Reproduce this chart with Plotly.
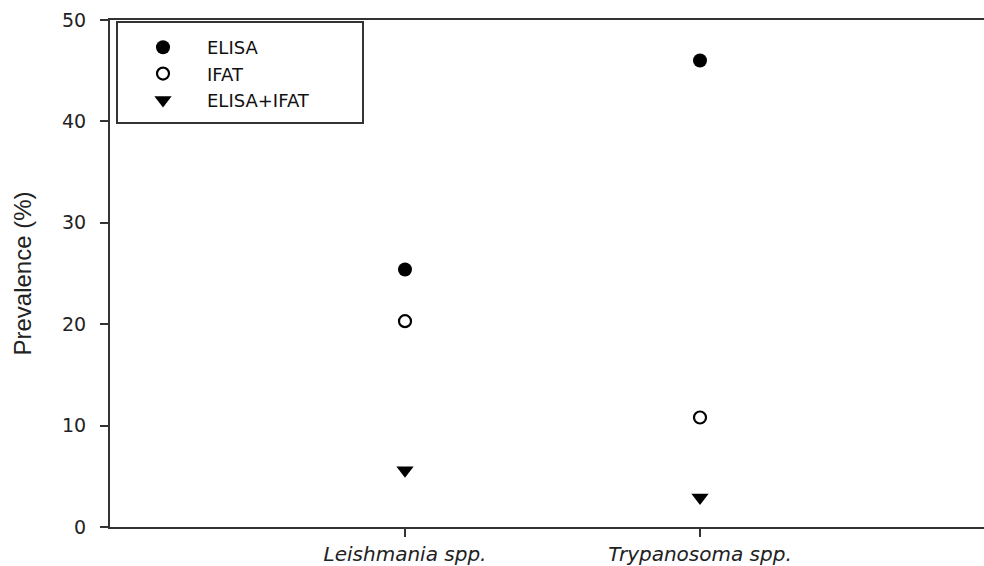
import plotly.graph_objects as go

categories = ["Leishmania spp.", "Trypanosoma spp."]
cat_pos = [1, 2]
elisa = [25.4, 46.0]
ifat = [20.3, 10.8]
elisa_ifat = [5.6, 2.9]
y_ticks = [0, 10, 20, 30, 40, 50]

W, H = 984, 566
ML, MR, MT, MB = 110, 0, 20, 39
pw, ph = W - ML - MR, H - MT - MB

HFONT = "DejaVu Sans, Liberation Sans, Arial, sans-serif"

fig = go.Figure()
fig.add_trace(go.Scatter(x=cat_pos, y=elisa, mode="markers", name="ELISA",
                         marker=dict(symbol="circle", size=14, color="black")))
fig.add_trace(go.Scatter(x=cat_pos, y=ifat, mode="markers", name="IFAT",
                         marker=dict(symbol="circle-open", size=12, color="black",
                                     line=dict(width=2.2, color="black"))))
fig.add_trace(go.Scatter(x=cat_pos, y=elisa_ifat, mode="markers", name="ELISA+IFAT",
                         marker=dict(symbol="triangle-down", size=15, color="black")))

def px_x(p):
    return (p - ML) / pw
def px_y(p):
    return (H - MB - p) / ph

fig.add_shape(type="rect", xref="paper", yref="paper",
              x0=px_x(117), x1=px_x(363), y0=px_y(123), y1=px_y(22),
              line=dict(color="#333", width=2), fillcolor="rgba(0,0,0,0)")

fig.update_layout(
    width=W, height=H,
    margin=dict(l=ML, r=MR, t=MT, b=MB, autoexpand=False),
    paper_bgcolor="white", plot_bgcolor="white",
    font=dict(family=HFONT, size=18, color="#222"),
    showlegend=True,
    legend=dict(x=px_x(119), y=px_y(29), xanchor="left", yanchor="top",
                bgcolor="rgba(0,0,0,0)", borderwidth=0,
                font=dict(family=HFONT, size=18, color="#111"), tracegroupgap=0,
                itemwidth=78),
    xaxis=dict(range=[0, pw / 295], tickmode="array", tickvals=cat_pos, ticktext=categories,
               showline=True, linecolor="#333", linewidth=2, mirror=True,
               ticks="outside", ticklen=8, tickcolor="#333", tickwidth=2,
               ticklabelstandoff=0, automargin=False,
               showgrid=False, zeroline=False,
               tickfont=dict(family=HFONT, size=20, color="#222", style="italic")),
    yaxis=dict(range=[0, 50], tickvals=y_ticks,
               showline=True, linecolor="#333", linewidth=2,
               ticks="outside", ticklen=8, tickcolor="#333", tickwidth=2,
               ticklabelstandoff=10, automargin=False,
               showgrid=False, zeroline=False,
               title=dict(text="Prevalence (%)", standoff=24,
                          font=dict(family="Liberation Sans, Arial, sans-serif", size=24, color="#222")),
               tickfont=dict(family=HFONT, size=19, color="#222")),
)

fig.write_html("out.html",
               config={"displayModeBar": False},
               post_script="document.body.style.margin='0';document.body.style.overflow='hidden';")
